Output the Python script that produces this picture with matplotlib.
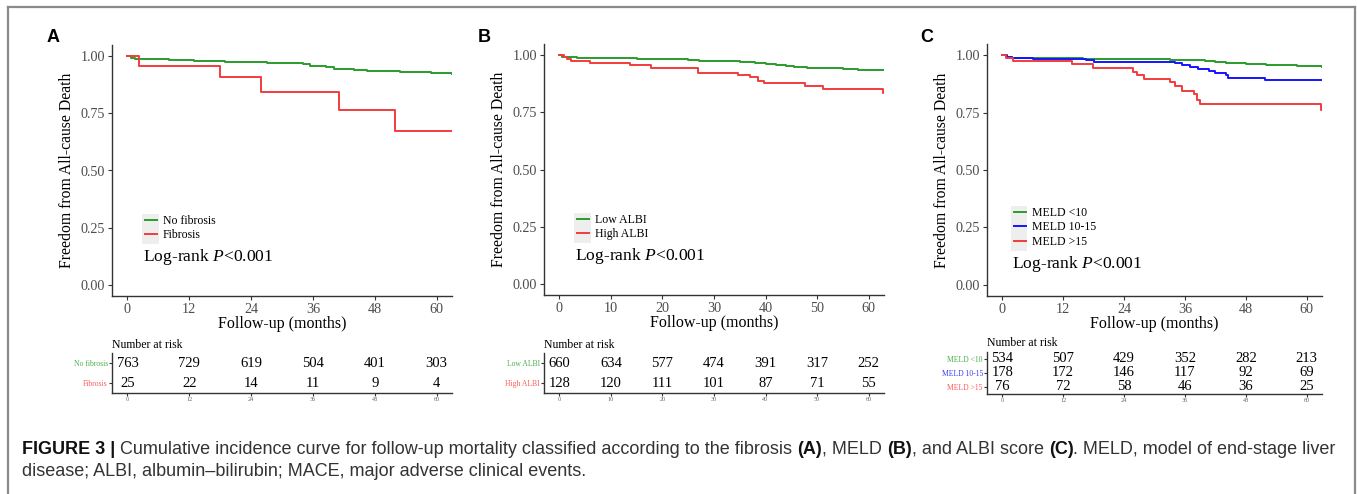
import numpy as np
import matplotlib.pyplot as plt
from matplotlib.lines import Line2D
from matplotlib.patches import Rectangle

plt.rcParams['font.family'] = ['Liberation Serif', 'DejaVu Serif']
plt.rcParams['mathtext.fontset'] = 'custom'
plt.rcParams['mathtext.rm'] = 'Liberation Serif'
plt.rcParams['mathtext.it'] = 'Liberation Serif:italic'

#-------------------------------------------------------------------------------
# panel A : fibrosis
a_nofib_t = [0, 0.6, 1.5, 3, 8, 13, 16, 19, 27, 29, 34, 35.5, 37, 38.5, 40, 42, 44, 46.5, 48, 53, 56, 59, 61.5, 63]
a_nofib_s = [1.0, 0.995, 0.99, 0.987, 0.985, 0.982, 0.978, 0.975, 0.972, 0.97, 0.965, 0.96, 0.957, 0.952,
             0.947, 0.944, 0.94, 0.936, 0.934, 0.932, 0.93, 0.928, 0.926, 0.925]
a_fib_t = [0, 2.3, 17.9, 26.0, 41.0, 51.9, 63]
a_fib_s = [1.0, 0.96, 0.908, 0.845, 0.767, 0.673, 0.673]
a_labels = ['No fibrosis', 'Fibrosis']
a_risk_times = [0, 12, 24, 36, 48, 60]
a_risk = [[763, 729, 619, 504, 401, 303],
          [25, 22, 14, 11, 9, 4]]

# panel B : ALBI
b_low_t = [0, 0.5, 1.5, 3.5, 12, 15, 18, 25, 27, 33, 35, 38, 40, 42, 44, 45.5, 48, 55, 58, 60, 63]
b_low_s = [1.0, 0.995, 0.992, 0.99, 0.988, 0.986, 0.983, 0.98, 0.977, 0.974, 0.97, 0.966, 0.962,
           0.957, 0.953, 0.948, 0.944, 0.941, 0.938, 0.936, 0.935]
b_high_t = [0, 0.8, 1.5, 2.2, 6.0, 13.7, 17.7, 26.8, 34.6, 37.0, 38.5, 39.7, 47.6, 51.2, 62.8, 63]
b_high_s = [1.0, 0.995, 0.985, 0.977, 0.968, 0.96, 0.943, 0.924, 0.914, 0.904, 0.89, 0.88, 0.868,
            0.853, 0.835, 0.835]
b_labels = ['Low ALBI', 'High ALBI']
b_risk_times = [0, 10, 20, 30, 40, 50, 60]
b_risk = [[660, 634, 577, 474, 391, 317, 252],
          [128, 120, 111, 101, 87, 71, 55]]

# panel C : MELD
c_lo_t = [0, 0.8, 2, 8, 16, 24, 33, 38, 40, 42, 44, 46, 48, 52, 56, 58, 61, 63]
c_lo_s = [1.0, 0.995, 0.99, 0.988, 0.986, 0.984, 0.981, 0.978, 0.975, 0.972, 0.968, 0.965, 0.962,
          0.96, 0.958, 0.955, 0.952, 0.951]
c_mid_t = [0, 1, 2, 6, 16.5, 18, 34, 35.5, 37, 38.5, 40.7, 42, 44, 44.5, 51.8, 63]
c_mid_s = [1.0, 0.993, 0.99, 0.985, 0.978, 0.971, 0.967, 0.96, 0.95, 0.94, 0.932, 0.923, 0.913,
           0.903, 0.892, 0.892]
c_hi_t = [0, 0.8, 2.2, 13.7, 17.8, 25.8, 26.6, 28.0, 33.0, 34.0, 35.5, 37.8, 38.4, 39.0, 62.8, 63]
c_hi_s = [1.0, 0.99, 0.975, 0.961, 0.945, 0.927, 0.913, 0.897, 0.884, 0.865, 0.847, 0.833, 0.807,
          0.789, 0.76, 0.76]
c_labels = ['MELD <10', 'MELD 10-15', 'MELD >15']
c_risk_times = [0, 12, 24, 36, 48, 60]
c_risk = [[534, 507, 429, 352, 282, 213],
          [178, 172, 146, 117, 92, 69],
          [76, 72, 58, 46, 36, 25]]

y_ticks = [0.0, 0.25, 0.5, 0.75, 1.0]
#-------------------------------------------------------------------------------

GREEN, RED, BLUE = '#2b9b2b', '#f23c3c', '#1414ff'
LGREEN, LRED, LBLUE = '#4cb04c', '#ff5a5a', '#3a3aff'

W, H = 1357, 494
fig = plt.figure(figsize=(W/100, H/100), dpi=100)

def box(l, t, r, b):
    return [l/W, 1-b/H, (r-l)/W, (b-t)/H]

def style(ax):
    for s in ['top', 'right']:
        ax.spines[s].set_visible(False)
    for s in ['left', 'bottom']:
        ax.spines[s].set_color('#333333')
        ax.spines[s].set_linewidth(1.0)

def draw_panel(letter, main_rect, tab_rect, curves, labels, colors, lcolors,
               risk_times, risk, xticks, leg_xy, logrank_xy):
    ax = fig.add_axes(box(*main_rect))
    style(ax)
    for (t, s), lab, c in zip(curves, labels, colors):
        ax.plot(t, s, drawstyle='steps-post', color=c, lw=1.4, label=lab)
    ax.set_xlim(-3, 63)
    ax.set_ylim(-0.05, 1.05)
    ax.set_xticks(xticks)
    ax.set_yticks(y_ticks)
    ax.set_yticklabels(['%.2f' % v for v in y_ticks])
    ax.tick_params(labelsize=10.2, labelcolor='#4d4d4d', color='#333333', length=3, width=0.8, pad=2)
    ax.set_xlabel('Follow-up (months)', fontsize=11.5, labelpad=0)
    ax.set_ylabel('Freedom from All-cause Death', fontsize=11.3, labelpad=4)
    ax.legend(loc='upper left', bbox_to_anchor=leg_xy, frameon=False, fontsize=8.5,
              handlelength=1.0, handletextpad=0.5, labelspacing=0.2, borderpad=0,
              borderaxespad=0)
    n = len(labels)
    ax.add_patch(Rectangle((leg_xy[0]-0.008, leg_xy[1]-0.056*n-0.005), 0.048, 0.056*n+0.01,
                           transform=ax.transAxes, color='#eeeeee', zorder=0, lw=0))
    ax.text(logrank_xy[0], logrank_xy[1], 'Log-rank $\\mathit{P}$<0.001', fontsize=12.6,
            ha='left', va='center')
    fig.text(letter[1]/W, 1-letter[2]/H, letter[0],
             family='Liberation Sans', fontweight='bold', fontsize=13, ha='center', va='center')

    tb = fig.add_axes(box(*tab_rect))
    style(tb)
    nrow = len(risk)
    for i, row in enumerate(risk):
        for x, v in zip(risk_times, row):
            tb.text(x, nrow - i, str(v), ha='center', va='center', fontsize=10.5)
    tb.set_xlim(-3, 63)
    tb.set_ylim(0.5, nrow + 0.5)
    tb.set_xticks(risk_times)
    tb.set_yticks(list(range(nrow, 0, -1)))
    tb.set_yticklabels(labels)
    for lab, c in zip(tb.get_yticklabels(), lcolors):
        lab.set_color(c)
    tb.tick_params(axis='y', labelsize=5.5, length=2, width=0.8, color='#333333', pad=1)
    tb.tick_params(axis='x', labelsize=4.5, labelcolor='#666666', length=2, width=0.8,
                   color='#333333', pad=1)
    tb.text(0, 1.06, 'Number at risk', transform=tb.transAxes, fontsize=8.5,
            ha='left', va='bottom')
    return ax

draw_panel(('A', 53, 37), (112, 45, 452, 296), (112, 353, 452, 393),
           [(a_nofib_t, a_nofib_s), (a_fib_t, a_fib_s)], a_labels, [GREEN, RED], [LGREEN, LRED],
           a_risk_times, a_risk, [0, 12, 24, 36, 48, 60], (0.097, 0.323), (3.0, 0.12))
draw_panel(('B', 484, 37), (544, 44, 884, 295), (544, 353, 884, 393),
           [(b_low_t, b_low_s), (b_high_t, b_high_s)], b_labels, [GREEN, RED], [LGREEN, LRED],
           b_risk_times, b_risk, [0, 10, 20, 30, 40, 50, 60], (0.097, 0.323), (3.0, 0.12))
draw_panel(('C', 927, 37), (987, 44, 1322, 296), (987, 352, 1322, 394),
           [(c_lo_t, c_lo_s), (c_mid_t, c_mid_s), (c_hi_t, c_hi_s)], c_labels,
           [GREEN, BLUE, RED], [LGREEN, LBLUE, LRED],
           c_risk_times, c_risk, [0, 12, 24, 36, 48, 60], (0.08, 0.353), (2.0, 0.09))

# frame
for xs, ys in [([8, 8], [7, 494]), ([8, 1355], [7, 7]), ([1355, 1355], [7, 494])]:
    fig.add_artist(Line2D([x/W for x in xs], [1-y/H for y in ys], transform=fig.transFigure,
                          color='#8a8a8a', lw=1.6))

# caption
cap1 = [('FIGURE 3 | ', True),
        ('Cumulative incidence curve for follow-up mortality classified according to the fibrosis ', False),
        ('(A)', True), (', MELD ', False), ('(B)', True), (', and ALBI score ', False), ('(C)', True),
        ('. MELD, model of end-stage liver', False)]
cap2 = [('disease; ALBI, albumin\u2013bilirubin; MACE, major adverse clinical events.', False)]

renderer = fig.canvas.get_renderer()
for pieces, ypix in [(cap1, 449), (cap2, 471)]:
    x = 22
    for txt, bold in pieces:
        t = fig.text(x/W, 1-ypix/H, txt, family='Liberation Sans', fontsize=13.0,
                     fontweight='bold' if bold else 'normal',
                     color='#111111' if bold else '#333333', ha='left', va='center')
        x += t.get_window_extent(renderer).width

fig.savefig('out.png', dpi=100)
